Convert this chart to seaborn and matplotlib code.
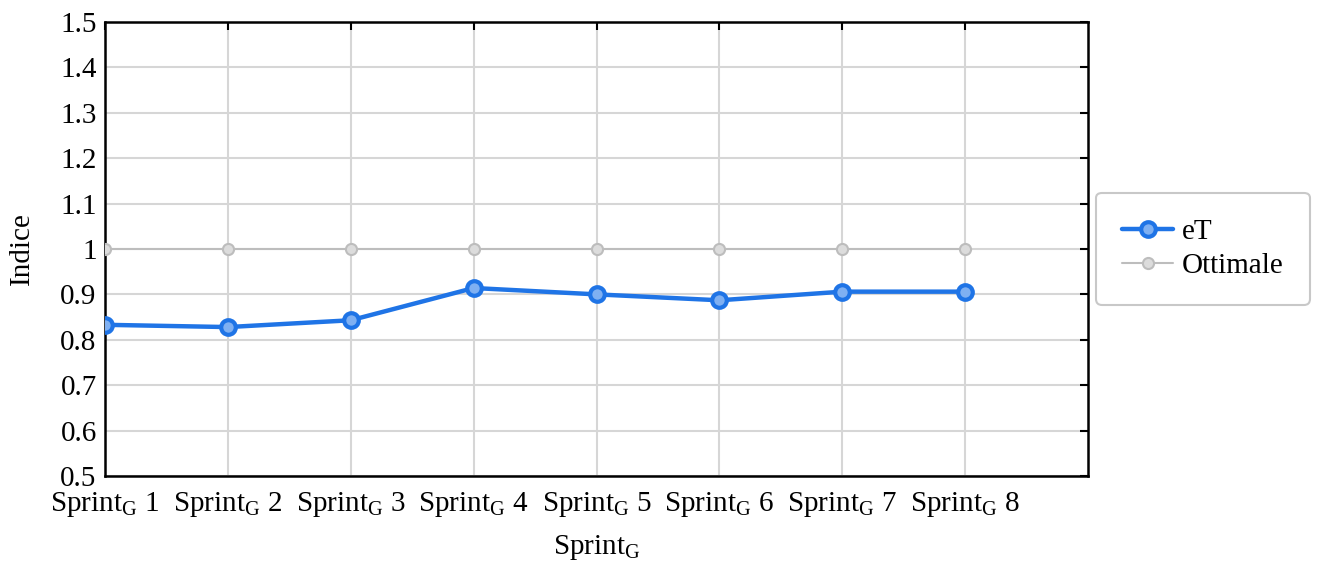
import numpy as np
import pandas as pd
import matplotlib
matplotlib.use("Agg")
import matplotlib.pyplot as plt
import seaborn as sns

sprints = ["Sprint$_{\\mathrm{G}}$ %d" % i for i in range(1, 9)]
et_vals = [0.833, 0.828, 0.843, 0.914, 0.900, 0.887, 0.906, 0.906]
ottimale = [1.0] * 8
yticks = ['0.5', '0.6', '0.7', '0.8', '0.9', '1', '1.1', '1.2', '1.3', '1.4', '1.5']

sns.set_style("white")
plt.rcParams['font.family'] = ['Liberation Serif', 'DejaVu Serif']
plt.rcParams['mathtext.fontset'] = 'custom'
plt.rcParams['mathtext.rm'] = 'Liberation Serif'
plt.rcParams['text.color'] = 'black'
plt.rcParams['axes.labelcolor'] = 'black'

df = pd.DataFrame({
    'pos': list(range(8)) * 2,
    'val': et_vals + ottimale,
    'serie': ['eT'] * 8 + ['Ottimale'] * 8,
})

FS = 21

fig = plt.figure(figsize=(13.19, 5.62), dpi=100)
ax = fig.add_axes([0.0796, 0.153, 0.7454, 0.808])

ax.grid(True, color='#d6d6d6', linewidth=1.5, zorder=0)
ax.set_axisbelow(True)

sns.lineplot(data=df[df.serie == 'Ottimale'], x='pos', y='val', ax=ax,
             color='#bdbdbd', linewidth=1.5, marker='o', markersize=8,
             markerfacecolor='#dcdcdc', markeredgecolor='#bdbdbd',
             markeredgewidth=1.5, label='Ottimale', zorder=3)
sns.lineplot(data=df[df.serie == 'eT'], x='pos', y='val', ax=ax,
             color='#1f74e6', linewidth=3.2, marker='o', markersize=10.5,
             markerfacecolor='#7fb0f2', markeredgecolor='#1f74e6',
             markeredgewidth=3, label='eT', zorder=4)

ax.set_xlim(0, 8)
ax.set_ylim(0.5, 1.5)
ax.set_xticks(range(8))
ax.set_xticklabels(sprints)
ax.set_yticks(np.arange(0.5, 1.51, 0.1))
ax.set_yticklabels(yticks)
ax.tick_params(direction='in', length=6, width=1.5, top=True, right=True,
               labelsize=FS, colors='black')
ax.tick_params(axis='x', pad=10)
ax.tick_params(axis='y', pad=6)
for s in ax.spines.values():
    s.set_color('black')
    s.set_linewidth(1.8)

ax.set_xlabel('Sprint$_{\\mathrm{G}}$', fontsize=FS, labelpad=10)
ax.set_ylabel('Indice', fontsize=FS, labelpad=18)

handles, labels = ax.get_legend_handles_labels()
order = [labels.index('eT'), labels.index('Ottimale')]
leg = ax.legend([handles[i] for i in order], [labels[i] for i in order],
                loc='center left', bbox_to_anchor=(1.008, 0.5), fontsize=FS,
                frameon=True, fancybox=True, edgecolor='#bbbbbb',
                borderpad=0.9, handlelength=1.75, handletextpad=0.3,
                labelspacing=0.25, borderaxespad=0)
leg.get_frame().set_linewidth(1.5)
for t in leg.get_texts():
    t.set_color('black')

fig.savefig('out.png', dpi=100)
